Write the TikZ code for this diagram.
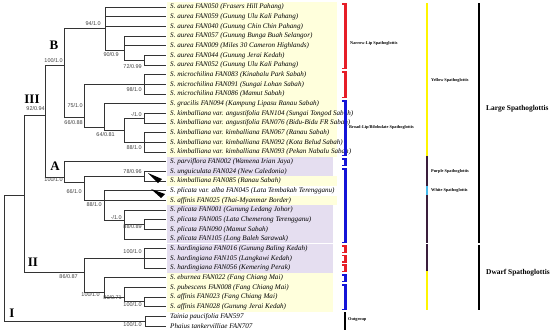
\documentclass[tikz,border=0pt]{standalone}
\usepackage{fontspec}
\setmainfont{Liberation Serif}
\newfontfamily\suppfont{Liberation Sans}
\usetikzlibrary{calc}

\definecolor{lipred}{RGB}{230,30,40}
\definecolor{lipblue}{RGB}{20,20,215}
\definecolor{boxyel}{RGB}{255,255,220}
\definecolor{boxpur}{RGB}{229,222,240}
\definecolor{darkpur}{RGB}{58,30,60}
\definecolor{whitecyan}{RGB}{70,185,235}
\definecolor{bandyel}{RGB}{255,245,0}
\newcommand{\lipbrk}[3]{%
  \fill[#1] (344.4,#2) rectangle (346.6,#3);
  \fill[#1] (341.5,#2) rectangle (346.6,{#2+1.5});
  \fill[#1] (341.5,{#3-1.5}) rectangle (346.6,#3);}
\newcommand{\colband}[3]{\fill[#1] (425.9,#2) rectangle (428.1,#3);}

\begin{document}
\begin{tikzpicture}[
  x=1pt,y=-1pt,
  branch/.style={draw,line width=0.65pt,black!80},
  taxon/.style={anchor=west,inner sep=0pt,font=\fontsize{7.1}{8}\selectfont\itshape},
  supp/.style={anchor=east,inner sep=0pt,font=\suppfont\fontsize{5.5}{6}\selectfont,text=black!75},
  clade/.style={inner sep=0pt,font=\fontsize{13}{13}\selectfont\bfseries},
  grp/.style={anchor=west,inner sep=0pt,font=\fontsize{4.3}{5}\selectfont\bfseries},
  biggrp/.style={anchor=west,inner sep=0pt,font=\fontsize{7.4}{8}\selectfont\bfseries},
]
\useasboundingbox (0,0) rectangle (550,332);

% shaded rows
\fill[boxyel] (167,2.2) rectangle (337,156.8);
\fill[boxpur] (167,156.8) rectangle (333,176.2);
\fill[boxyel] (167,176.2) rectangle (337,185.8);
\fill[boxyel] (167,195.5) rectangle (337,205.1);
\fill[boxpur] (167,205.1) rectangle (333,243.4);
\fill[boxpur] (167,244.4) rectangle (333,272.8);
\fill[boxyel] (167,272.8) rectangle (333,311.5);

% tips and names
\foreach \i/\txt in {
  1/{S. aurea FAN050 (Frasers Hill Pahang)},
  2/{S. aurea FAN059 (Gunung Ulu Kali Pahang)},
  3/{S. aurea FAN040 (Gunung Chin Chin Pahang)},
  4/{S. aurea FAN057 (Gunung Bunga Buah Selangor)},
  5/{S. aurea FAN009 (Miles 30 Cameron Highlands)},
  6/{S. aurea FAN044 (Gunung Jerai Kedah)},
  7/{S. aurea FAN052 (Gunung Ulu Kali Pahang)},
  8/{S. microchilina FAN083 (Kinabalu Park Sabah)},
  9/{S. microchilina FAN091 (Sungai Lohan Sabah)},
  10/{S. microchilina FAN086 (Mamut Sabah)},
  11/{S. gracilis FAN094 (Kampung Lipasu Ranau Sabah)},
  12/{S. kimballiana var. angustifolia FAN104 (Sungai Tongod Sabah)},
  13/{S. kimballiana var. angustifolia FAN076 (Bidu-Bidu FR Sabah)},
  14/{S. kimballiana var. kimballiana FAN067 (Ranau Sabah)},
  15/{S. kimballiana var. kimballiana FAN092 (Kota Belud Sabah)},
  16/{S. kimballiana var. kimballiana FAN093 (Pekan Nabalu Sabah)},
  17/{S. parviflora FAN002 (Wamena Irian Jaya)},
  18/{S. unguiculata FAN024 (New Caledonia)},
  19/{S. kimballiana FAN085 (Ranau Sabah)},
  20/{S. plicata var. alba FAN045 (Lata Tembakah Terengganu)},
  21/{S. affinis FAN025 (Thai-Myanmar Border)},
  22/{S. plicata FAN001 (Gunung Ledang Johor)},
  23/{S. plicata FAN005 (Lata Chemerong Terengganu)},
  24/{S. plicata FAN090 (Mamut Sabah)},
  25/{S. plicata FAN105 (Long Baleh Sarawak)},
  26/{S. hardingiana FAN016 (Gunung Baling Kedah)},
  27/{S. hardingiana FAN105 (Langkawi Kedah)},
  28/{S. hardingiana FAN056 (Kemering Perak)},
  29/{S. eburnea FAN022 (Fang Chiang Mai)},
  30/{S. pubescens FAN008 (Fang Chiang Mai)},
  31/{S. affinis FAN023 (Fang Chiang Mai)},
  32/{S. affinis FAN028 (Gunung Jerai Kedah)},
  33/{Tainia paucifolia FAN597},
  34/{Phaius tankervilliae FAN707}}
{
  \coordinate (t\i) at (166,{7+(\i-1)*29/3});
  \node[taxon] (n\i) at (170,{7+(\i-1)*29/3}) {\txt};
}

% internal nodes
\coordinate (root) at (4,250);
\coordinate (ing) at (24,195);
\coordinate (III) at (45,115);
\coordinate (B) at (64,65);
\coordinate (a1) at (105,28);
\coordinate (a2) at (124,50);
\coordinate (a3) at (144,60.2);
\coordinate (M) at (84,117);
\coordinate (mic) at (144,84.3);
\coordinate (K) at (104,127);
\coordinate (K2) at (124,130);
\coordinate (ang) at (144,118.2);
\coordinate (kim) at (144,142.3);
\coordinate (A) at (64,177);
\coordinate (U) at (84,182);
\coordinate (ung) at (144,176.2);
\coordinate (P) at (104,200);
\coordinate (Q) at (124,220);
\coordinate (R) at (144,224.5);
\coordinate (II) at (84,272);
\coordinate (hard) at (144,258.3);
\coordinate (E) at (104,292);
\coordinate (F) at (124,297);
\coordinate (G) at (144,301.8);
\coordinate (out) at (145,321.2);

\foreach \p/\c in {root/ing,root/out,ing/III,ing/II,III/B,III/A,
  B/a1,B/M,a1/t1,a1/t2,a1/t3,a1/a2,a2/t4,a2/t5,a2/a3,a3/t6,a3/t7,
  M/mic,M/K,mic/t8,mic/t9,mic/t10,K/t11,K/K2,K2/ang,K2/kim,
  ang/t12,ang/t13,kim/t14,kim/t15,kim/t16,
  A/t17,A/U,U/ung,U/P,ung/t18,ung/t19,P/t20,P/t21,P/Q,
  Q/t22,Q/R,Q/t25,R/t23,R/t24,
  II/hard,II/E,hard/t26,hard/t27,hard/t28,E/t29,E/F,F/t30,F/G,G/t31,G/t32,
  out/t33,out/t34}
  \draw[branch] (\p) |- (\c);

% pointers
\fill (148,173) -- (162,179) -- (158,183) -- cycle;
\fill (151,189) -- (165,194) -- (161,198) -- cycle;

% support values
\node[supp] (s1) at (101,24) {94/1.0};
\node[supp] (s2) at (119,55) {90/0.9};
\node[supp] (s3) at (142,67) {72/0.99};
\node[supp] (s4) at (63,61) {100/1.0};
\node[supp] (s5) at (142,90) {98/1.0};
\node[supp] (s6) at (83,106) {75/1.0};
\node[supp] (s7) at (45,109) {92/0.94};
\node[supp] (s8) at (142,115) {-/1.0};
\node[supp] (s9) at (83,123) {66/0.88};
\node[supp] (s10) at (115,135) {64/0.81};
\node[supp] (s11) at (142,148) {88/1.0};
\node[supp] (s12) at (142,172) {78/0.96};
\node[supp] (s13) at (63,180) {100/1.0};
\node[supp] (s14) at (82,192) {66/1.0};
\node[supp] (s15) at (102,205) {88/1.0};
\node[supp] (s16) at (122,218) {-/1.0};
\node[supp] (s17) at (142,227) {88/0.89};
\node[supp] (s18) at (142,252) {100/1.0};
\node[supp] (s19) at (78,277) {86/0.87};
\node[supp] (s20) at (100,295) {100/1.0};
\node[supp] (s21) at (122,298) {80/0.71};
\node[supp] (s22) at (142,305) {100/1.0};
\node[supp] (s23) at (142,325) {100/1.0};

% clade names
\node[clade] (cIII) at (32,99) {III};
\node[clade] (cB) at (54,45) {B};
\node[clade] (cA) at (55,166) {A};
\node[clade] (cII) at (33,262) {II};
\node[clade] (cI) at (12,313) {I};

% lip brackets
\lipbrk{lipred}{3}{69}
\lipbrk{lipred}{71}{98}
\lipbrk{lipblue}{100}{156}
\lipbrk{lipblue}{158}{166}
\lipbrk{lipblue}{168}{243}
\lipbrk{lipred}{245}{253}
\lipbrk{lipred}{254.5}{262.5}
\lipbrk{lipred}{264}{272}
\lipbrk{lipblue}{274}{282}
\lipbrk{lipblue}{284}{310}
\fill[black] (343.8,312) rectangle (345.6,330);
\node[grp] (lnarrow) at (350,43) {Narrow-Lip Spathoglottis};
\node[grp] (lbroad) at (349,127) {Broad-Lip/Bilobulate Spathoglottis};
\node[grp] (lout) at (348,320) {Outgroup};

% colour bands
\colband{bandyel}{3}{156}
\colband{darkpur}{156}{242.5}
\colband{darkpur}{244}{271}
\colband{whitecyan}{186}{195}
\colband{bandyel}{271}{310}
\node[grp] (lyel) at (431,80) {Yellow Spathoglottis};
\node[grp] (lpur) at (431,171) {Purple Spathoglottis};
\node[grp] (lwhi) at (431,190.5) {White Spathoglottis};

% size groups
\fill[black] (478.2,3) rectangle (479.8,242.5);
\fill[black] (478.2,244.5) rectangle (479.8,310);
\node[biggrp] (llarge) at (486,109) {Large Spathoglottis};
\node[biggrp] (ldwarf) at (486,273) {Dwarf Spathoglottis};
\end{tikzpicture}
\end{document}
